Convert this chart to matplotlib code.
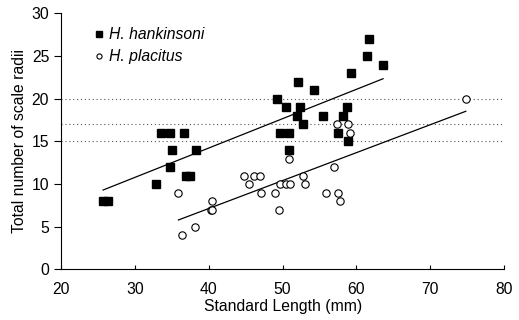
import numpy as np
import matplotlib
matplotlib.use("Agg")
import matplotlib.pyplot as plt

plt.rcParams['font.family'] = ['Liberation Sans', 'DejaVu Sans']

# H. hankinsoni (filled squares)
hank_x = [25.7, 26.3, 32.9, 33.6, 34.7, 36.7, 35.0, 38.3, 34.7, 36.9, 37.4,
          49.3, 52.1, 54.3, 50.4, 52.3, 52.0, 52.8, 55.5, 49.7, 50.9, 50.8,
          58.7, 58.2, 57.5, 58.8, 59.2, 61.4, 61.7, 63.6]
hank_y = [8, 8, 10, 16, 16, 16, 14, 14, 12, 11, 11,
          20, 22, 21, 19, 19, 18, 17, 18, 16, 16, 14,
          19, 18, 16, 15, 23, 25, 27, 24]

# H. placitus (open circles)
plac_x = [35.9, 36.4, 38.1, 40.4, 40.3, 40.5, 44.8, 45.5, 46.1, 47.0, 47.1,
          49.0, 49.5, 49.6, 50.4, 51.0, 50.8, 52.8, 53.1, 55.9, 56.9, 57.5,
          57.8, 57.3, 58.8, 59.1, 74.8]
plac_y = [9, 4, 5, 8, 7, 7, 11, 10, 11, 11, 9,
          9, 7, 10, 10, 10, 13, 11, 10, 9, 12, 9,
          8, 17, 17, 16, 20]

ref_levels = [20, 17, 15]
x_ticks = [20, 30, 40, 50, 60, 70, 80]
y_ticks = [0, 5, 10, 15, 20, 25, 30]

FS = 11.3

fig = plt.figure(figsize=(5.19, 3.20), dpi=100)
ax = fig.add_axes([0.1175, 0.158, 0.854, 0.8])

for lv in ref_levels:
    ax.axhline(lv, color='#555555', lw=0.8, ls=(0, (1, 2.5)), zorder=1)

ax.plot(hank_x, hank_y, ls='none', marker='s', ms=5.3, mfc='black', mec='black',
        label='H. hankinsoni', zorder=3)
ax.plot(plac_x, plac_y, ls='none', marker='o', ms=5.3, mfc='white', mec='black',
        mew=0.8, label='H. placitus', zorder=3)

for xs, ys in ((hank_x, hank_y), (plac_x, plac_y)):
    xs = np.asarray(xs); ys = np.asarray(ys)
    b, a = np.polyfit(xs, ys, 1)
    xx = np.array([xs.min(), xs.max()])
    ax.plot(xx, a + b * xx, color='black', lw=0.9, zorder=2)

ax.set_xlim(20, 80)
ax.set_ylim(0, 30)
ax.set_xticks(x_ticks)
ax.set_yticks(y_ticks)
for s in ('top', 'right'):
    ax.spines[s].set_visible(False)
for s in ('left', 'bottom'):
    ax.spines[s].set_linewidth(0.8)
ax.tick_params(axis='x', direction='in', length=3, width=0.8, labelsize=FS, pad=9)
ax.tick_params(axis='y', direction='out', length=5, width=0.8, labelsize=FS, pad=3.5)
ax.set_xlabel('Standard Length (mm)', fontsize=FS, labelpad=1.5)
ax.set_ylabel('Total number of scale radii', fontsize=FS, labelpad=3)

leg = ax.legend(loc='upper left', bbox_to_anchor=(0.065, 0.97), frameon=False,
                handlelength=0.4, handletextpad=0.43, borderaxespad=0,
                labelspacing=0.45, markerscale=0.7,
                prop={'style': 'italic', 'size': FS})

fig.savefig('out.png', dpi=100)
